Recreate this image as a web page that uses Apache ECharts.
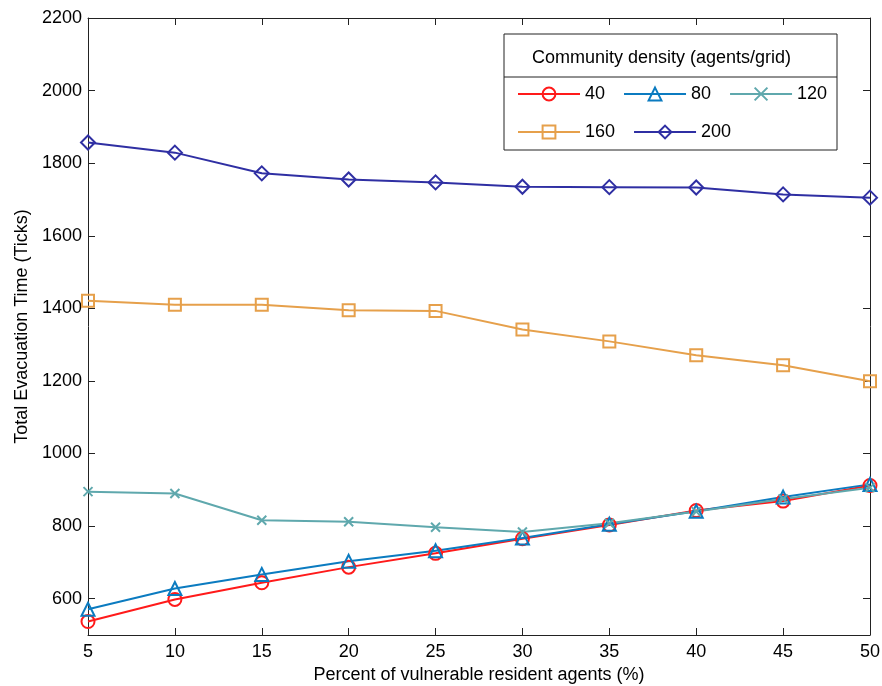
<!DOCTYPE html>
<html>

<head>
    <meta charset="utf-8" />
    <title>Total Evacuation Time</title>
    <script src="https://cdn.jsdelivr.net/npm/echarts@6/dist/echarts.min.js"></script>
</head>

<body style="margin:0;background:#fff;">
    <div id="chartContainer" style="width:882px;height:686px;"></div>
    <script type="text/javascript">
        var percentData = [5, 10, 15, 20, 25, 30, 35, 40, 45, 50];
        var density40 = [537, 598, 644, 687, 725, 765, 803, 843, 869, 912];
        var density80 = [571, 628, 667, 703, 732, 767, 805, 841, 880, 915];
        var density120 = [895, 890, 816, 812, 797, 784, 808, 840, 875, 906];
        var density160 = [1421, 1410, 1410, 1395, 1393, 1342, 1309, 1271, 1243, 1199];
        var density200 = [1857, 1829, 1772, 1755, 1747, 1735, 1734, 1733, 1714, 1705];
        var yTickValues = [600, 800, 1000, 1200, 1400, 1600, 1800, 2000, 2200];

        var fontName = '"Liberation Sans", Arial, sans-serif';
        var axisColor = '#222';

        function pairs(ys) {
            var out = [];
            for (var i = 0; i < percentData.length; i++) {
                out.push([percentData[i], ys[i]]);
            }
            return out;
        }

        function makeSeries(name, data, color, symbol, size, width) {
            return {
                name: name,
                type: 'line',
                data: pairs(data),
                symbol: symbol,
                symbolSize: size,
                lineStyle: { color: color, width: width },
                itemStyle: { color: 'rgba(0,0,0,0)', borderColor: color, borderWidth: 2 },
                emphasis: { disabled: true },
                animation: false
            };
        }

        var chartDom = document.getElementById('chartContainer');
        var chart = echarts.init(chartDom);

        var option = {
            backgroundColor: '#fff',
            textStyle: { fontFamily: fontName },
            grid: { left: 88, right: 12, top: 18, bottom: 51, outerBoundsMode: 'none', containLabel: false },
            legend: {
                left: 517,
                top: 84,
                width: 320,
                padding: 0,
                z: 20,
                itemWidth: 62,
                itemHeight: 16,
                itemGap: 18,
                textStyle: { fontFamily: fontName, fontSize: 18, lineHeight: 20, color: '#000' },
                data: ['40', '80', '120', '160', '200']
            },
            graphic: [
                {
                    type: 'rect',
                    z: 5,
                    shape: { x: 504, y: 34, width: 333, height: 116 },
                    style: { fill: '#fff', stroke: '#222', lineWidth: 1 }
                },
                {
                    type: 'line',
                    z: 6,
                    shape: { x1: 504, y1: 77, x2: 837, y2: 77 },
                    style: { stroke: '#222', lineWidth: 1 }
                },
                {
                    type: 'text',
                    z: 6,
                    left: 532,
                    top: 49,
                    style: {
                        text: 'Community density (agents/grid)',
                        font: '18px ' + fontName,
                        fill: '#000'
                    }
                }
            ],
            xAxis: [{
                type: 'value',
                min: 5,
                max: 50,
                interval: 5,
                name: 'Percent of vulnerable resident agents (%)',
                nameLocation: 'middle',
                nameGap: 22,
                nameTextStyle: { fontSize: 18, color: '#000', fontFamily: fontName },
                axisLine: { lineStyle: { color: axisColor, width: 1 } },
                axisTick: { inside: true, length: 7, lineStyle: { color: axisColor } },
                axisLabel: { fontSize: 18, color: '#000', margin: 8 },
                splitLine: { show: false }
            }, {
                type: 'value',
                position: 'top',
                min: 5,
                max: 50,
                interval: 5,
                axisLine: { lineStyle: { color: axisColor, width: 1 } },
                axisTick: { inside: true, length: 7, lineStyle: { color: axisColor } },
                axisLabel: { show: false },
                splitLine: { show: false }
            }],
            yAxis: [{
                type: 'value',
                min: 500,
                max: 2200,
                name: 'Total Evacuation Time (Ticks)',
                nameLocation: 'middle',
                nameGap: 55,
                nameTextStyle: { fontSize: 18, color: '#000', fontFamily: fontName },
                axisLine: { show: true, lineStyle: { color: axisColor, width: 1 } },
                axisTick: { show: true, inside: true, length: 7, customValues: yTickValues, lineStyle: { color: axisColor } },
                axisLabel: {
                    fontSize: 18, color: '#000', margin: 6, customValues: yTickValues,
                    formatter: function (v) { return String(v); }
                },
                splitLine: { show: false }
            }, {
                type: 'value',
                position: 'right',
                min: 500,
                max: 2200,
                axisLine: { show: true, lineStyle: { color: axisColor, width: 1 } },
                axisTick: { show: true, inside: true, length: 7, customValues: yTickValues, lineStyle: { color: axisColor } },
                axisLabel: { show: false },
                splitLine: { show: false }
            }],
            series: [
                makeSeries('40', density40, '#ff1a1a', 'circle', 13, 2),
                makeSeries('80', density80, '#0b7bc0', 'triangle', 13, 2),
                makeSeries('120', density120, '#5fa8ad', 'path://M0,0L10,10M10,0L0,10', 9, 2),
                makeSeries('160', density160, '#e6a04b', 'rect', 12, 2),
                makeSeries('200', density200, '#2f2fa3', 'diamond', 14, 2)
            ]
        };

        if (option && typeof option === 'object') {
            chart.setOption(option, true);
        }
    </script>
</body>

</html>
